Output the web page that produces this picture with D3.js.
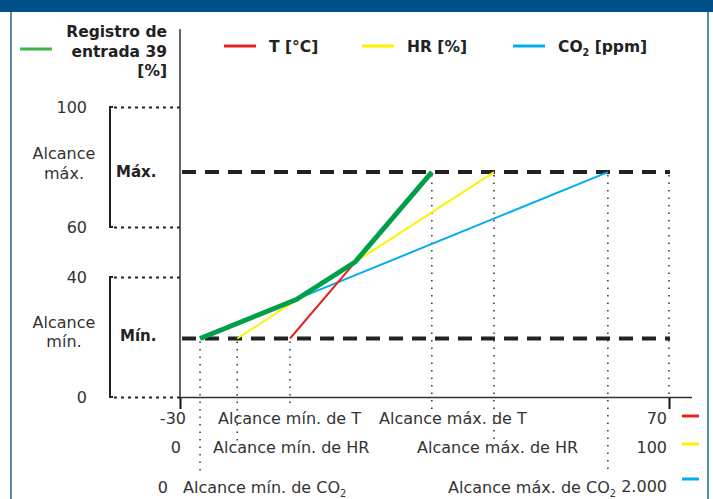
<!DOCTYPE html>
<html>
<head>
<meta charset="utf-8">
<script src="https://cdn.jsdelivr.net/npm/d3@7"></script>
<style>
  body { margin: 0; background: #fff; }
  text { font-family: "DejaVu Sans", Verdana, sans-serif; fill: #333; }
  .bold { font-weight: bold; fill: #222; }
</style>
</head>
<body>
<script>
var w = 713, h = 499;

// signal ticks [%] and the two alcance levels of the input
var yTicks = [0, 40, 60, 100];
var signalMin = 19.5, signalMax = 78.3;

// sensors: scale ends and alcance min/max
var sensorNames = ["T", "HR", "CO2"];
var legendNames = ["T [°C]", "HR [%]", "CO2 [ppm]"];
var sensorLow = [-30, 0, 0];
var sensorHigh = [70, 100, 2000];
var lowLabels = ["-30", "0", "0"];
var highLabels = ["70", "100", "2.000"];
var alcanceMin = [-7.5, 11.7, 82];
var alcanceMax = [21.5, 64.2, 1750];
var colors = ["#e52421", "#fff200", "#00aeef"];

var regT = [-25.9, -6.2, 5.8, 21.5];
var regY = [19.5, 32.5, 46, 78.3];

var svg = d3.select("body").append("svg")
  .attr("width", w)
  .attr("height", h);

// frame
svg.append("rect").attr("x", 0).attr("y", 0).attr("width", w).attr("height", 12).attr("fill", "#00508a");
svg.append("line").attr("x1", 11).attr("x2", 11).attr("y1", 12).attr("y2", h)
  .attr("stroke", "#1b62a0").attr("stroke-width", 1.5);
svg.append("line").attr("x1", 708).attr("x2", 708).attr("y1", 12).attr("y2", h)
  .attr("stroke", "#1b62a0").attr("stroke-width", 1.5);

var x0 = 180, x1 = 669;
var xScales = sensorNames.map(function(d, i) {
  return d3.scaleLinear().domain([sensorLow[i], sensorHigh[i]]).range([x0, x1]);
});
var xT = xScales[0];
var y = d3.scaleLinear().domain([0, 40, 60, 100]).range([397, 277, 227, 107]);

// y axis with dotted ticks
var yAxis = d3.axisLeft(y).tickValues(yTicks).tickSize(70).tickPadding(23);
var gy = svg.append("g").attr("transform", "translate(" + x0 + ",0)").call(yAxis);
gy.select(".domain").remove();
gy.selectAll(".tick line")
  .attr("stroke", "#222").attr("stroke-width", 2).attr("stroke-dasharray", "3,4");
gy.selectAll(".tick text")
  .style("font-size", "16px").attr("fill", "#333").attr("font-family", "DejaVu Sans");

svg.append("line").attr("x1", x0).attr("x2", x0).attr("y1", 29).attr("y2", y(0))
  .attr("stroke", "#333").attr("stroke-width", 1.5);

// x axis
svg.append("line").attr("x1", x0).attr("x2", x1 + 23).attr("y1", y(0) + 0.5).attr("y2", y(0) + 0.5)
  .attr("stroke", "#333").attr("stroke-width", 1.5);
var gx = svg.append("g").attr("transform", "translate(0," + (y(0) + 1) + ")")
  .call(d3.axisBottom(xT).tickValues([sensorLow[0], sensorHigh[0]]).tickSize(11).tickFormat(""));
gx.select(".domain").remove();
gx.selectAll(".tick line").attr("stroke", "#111").attr("stroke-width", 2);

// brackets for the alcance regions
function bracket(v0, v1) {
  var p = d3.path();
  p.moveTo(113, y(v1)); p.lineTo(110, y(v1)); p.lineTo(110, y(v0)); p.lineTo(113, y(v0));
  svg.append("path").attr("d", p.toString()).attr("fill", "none")
    .attr("stroke", "#222").attr("stroke-width", 2);
}
bracket(60, 100);
bracket(0, 40);

svg.append("text").attr("x", 64).attr("y", 159).attr("text-anchor", "middle").style("font-size", "16px").text("Alcance");
svg.append("text").attr("x", 64).attr("y", 179).attr("text-anchor", "middle").style("font-size", "16px").text("máx.");
svg.append("text").attr("x", 64).attr("y", 328).attr("text-anchor", "middle").style("font-size", "16px").text("Alcance");
svg.append("text").attr("x", 64).attr("y", 347).attr("text-anchor", "middle").style("font-size", "16px").text("mín.");
svg.append("text").attr("class", "bold").attr("x", 116).attr("y", y(signalMax) + 5).style("font-size", "15px").text("Máx.");
svg.append("text").attr("class", "bold").attr("x", 120).attr("y", y(signalMin) + 2).style("font-size", "15px").text("Mín.");

// dotted verticals
var dotEnds = [409, 441, 471];
function vdots(xp, ya, yb) {
  svg.append("line").attr("x1", xp).attr("x2", xp).attr("y1", ya).attr("y2", yb)
    .attr("stroke", "#333").attr("stroke-width", 1.5).attr("stroke-dasharray", "1.5,6");
}
sensorNames.forEach(function(d, i) {
  vdots(xScales[i](alcanceMin[i]), y(signalMin) + 3, dotEnds[i]);
  vdots(xScales[i](alcanceMax[i]), y(signalMax) + 3, dotEnds[i]);
});
vdots(xT(sensorHigh[0]), y(signalMax) + 3, y(0));

// dashed alcance levels
[signalMin, signalMax].forEach(function(v) {
  svg.append("line").attr("x1", x0 + 2).attr("x2", x1 + 1).attr("y1", y(v)).attr("y2", y(v))
    .attr("stroke", "#222").attr("stroke-width", 4).attr("stroke-dasharray", "14,9");
});

// sensor lines
var line = d3.line();
[2, 1, 0].forEach(function(i) {
  svg.append("path")
    .attr("d", line([[xScales[i](alcanceMin[i]), y(signalMin)], [xScales[i](alcanceMax[i]), y(signalMax)]]))
    .attr("fill", "none").attr("stroke", colors[i]).attr("stroke-width", 2);
});

// registro de entrada
var regLine = d3.line()
  .x(function(d) { return xT(d[0]); })
  .y(function(d) { return y(d[1]); });
svg.append("path")
  .datum(regT.map(function(t, i) { return [t, regY[i]]; }))
  .attr("d", regLine)
  .attr("fill", "none").attr("stroke", "#00a04b").attr("stroke-width", 5)
  .attr("stroke-linejoin", "round");

// helper for CO2 subscript
function labelText(sel, str) {
  var parts = str.split("CO2");
  sel.append("tspan").text(parts[0]);
  if (parts.length > 1) {
    sel.append("tspan").text("CO");
    sel.append("tspan").attr("dy", 4).style("font-size", "0.62em").text("2");
    sel.append("tspan").attr("dy", -4).text(parts[1]);
  }
}

// bottom labels
var rowBase = [424, 453, 493];
var minLabelX = [218, 213, 183];
var maxLabelX = [379, 417, 448];
var lowX = [186, 181, 168];
sensorNames.forEach(function(d, i) {
  svg.append("text").attr("x", lowX[i]).attr("y", rowBase[i]).attr("text-anchor", "end")
    .style("font-size", "16px").text(lowLabels[i]);
  labelText(svg.append("text").attr("x", minLabelX[i]).attr("y", rowBase[i]).style("font-size", "16px"),
    "Alcance mín. de " + d);
  labelText(svg.append("text").attr("x", maxLabelX[i]).attr("y", rowBase[i]).style("font-size", "16px"),
    "Alcance máx. de " + d);
  svg.append("text").attr("x", 667).attr("y", rowBase[i] - (i == 2 ? 1 : 0)).attr("text-anchor", "end")
    .style("font-size", "16px").text(highLabels[i]);
  svg.append("line").attr("x1", 682).attr("x2", 699)
    .attr("y1", [416, 444, 479][i]).attr("y2", [416, 444, 479][i])
    .attr("stroke", colors[i]).attr("stroke-width", 3);
});

// legend
svg.append("line").attr("x1", 20).attr("x2", 52).attr("y1", 49).attr("y2", 49)
  .attr("stroke", "#3db54a").attr("stroke-width", 3);
["Registro de", "entrada 39", "[%]"].forEach(function(t, i) {
  svg.append("text").attr("class", "bold").attr("x", 167).attr("y", 37 + i * 19.5)
    .attr("text-anchor", "end").style("font-size", "15.5px").text(t);
});
var legX = [224, 362, 513];
sensorNames.forEach(function(d, i) {
  svg.append("line").attr("x1", legX[i]).attr("x2", legX[i] + 32).attr("y1", 46).attr("y2", 46)
    .attr("stroke", colors[i]).attr("stroke-width", 3);
  labelText(svg.append("text").attr("class", "bold").attr("x", legX[i] + 45).attr("y", 52)
    .style("font-size", "15.5px"), legendNames[i]);
});
</script>
</body>
</html>
